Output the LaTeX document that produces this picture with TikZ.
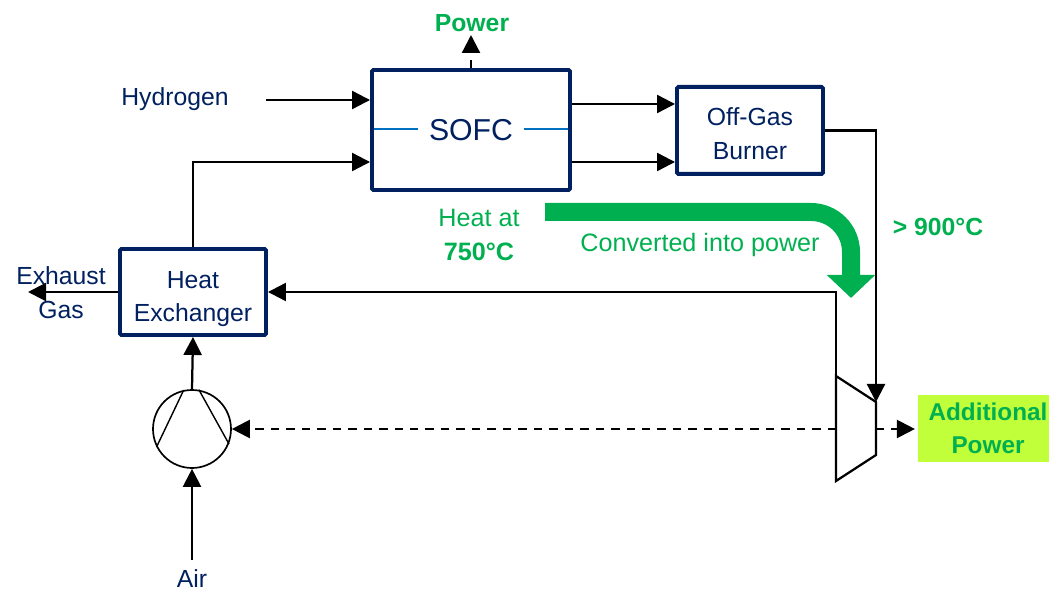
\documentclass[tikz,border=0pt]{standalone}
\usepackage{fontspec}
\setmainfont{Liberation Sans}
\usetikzlibrary{arrows.meta}

\definecolor{boxblue}{HTML}{002060}
\definecolor{linkblue}{HTML}{0070C0}
\definecolor{heatgreen}{HTML}{00B050}
\definecolor{limegreen}{HTML}{C1FF3A}

\begin{document}
\begin{tikzpicture}
      \tikzset{>={Triangle[length=0.45cm,width=0.45cm]}}
      \tikzset{flow/.style={line width=1.6pt}}
      \tikzset{dashflow/.style={line width=1.6pt,dash pattern=on 6pt off 5pt}}
      \tikzset{unitbox/.style={shape=rectangle,draw=boxblue,line width=2.8pt,rounded corners=1pt,text=boxblue,align=center,font=\fontsize{17.6}{24}\selectfont}}
      \tikzset{bluetxt/.style={text=boxblue,align=center,font=\fontsize{17.6}{24}\selectfont}}
      \tikzset{greentxt/.style={text=heatgreen,align=center,font=\fontsize{17.9}{24}\selectfont}}
      \tikzset{greenbold/.style={text=heatgreen,align=center,font=\fontsize{17.6}{24}\selectfont\bfseries}}

      \path[use as bounding box,clip] (0,0) rectangle (26.225,14.8);

      \node[unitbox,minimum width=4.95cm,minimum height=3cm,font=\fontsize{21.5}{26}\selectfont](SOFC) at (11.775,11.55) {\rule{0pt}{13pt}SOFC};
      \node[unitbox,minimum width=3.65cm,minimum height=2.175cm](Burner) at (18.75,11.54) {\rule{0pt}{17pt}Off-Gas\\Burner};
      \node[unitbox,minimum width=3.65cm,minimum height=2.15cm](Exchanger) at (4.825,7.5) {\rule{0pt}{22pt}Heat\\Exchanger};
      \node[shape=circle,draw=black,line width=1.2pt,minimum size=1.95cm,inner sep=0pt](Compressor) at (4.8,4.075) {};
      \node[shape=rectangle,fill=limegreen,minimum width=3.5cm,minimum height=1.675cm,inner sep=0pt,greenbold,font=\fontsize{17.3}{24}\selectfont\bfseries](Additional) at (24.7,4.09) {Additional\\Power};

      \node[bluetxt](Hydrogen) at (4.375,12.325) {Hydrogen};
      \node[bluetxt](Exhaust) at (1.525,7.475) {Exhaust\\Gas};
      \node[bluetxt,inner sep=0pt](Air) at (4.8,0.33) {Air};
      \node[greenbold](Power) at (11.8,14.225) {Power};
      \node[greentxt](Heat) at (11.975,8.925) {Heat at\\\textbf{750°C}};
      \node[greentxt](Converted) at (17.5,8.675) {Converted into power};
      \node[greenbold](Hot) at (23.45,9.125) {> 900°C};

      \coordinate (HydrogenIn) at (6.65,12.3);
      \coordinate (PowerOut) at (11.775,13.925);
      \coordinate (AirIn) at (4.8,0.8);
      \coordinate (ExhaustOut) at (0.7,7.5);
      \coordinate (TurbineA) at (20.9,5.4);
      \coordinate (TurbineB) at (21.9,4.75);
      \coordinate (TurbineC) at (21.9,3.425);
      \coordinate (TurbineD) at (20.9,2.775);
      \coordinate (TurbineWest) at (20.9,4.075);
      \coordinate (TurbineEast) at (21.9,4.075);
      \coordinate (HeatStart) at (13.625,9.5);
      \coordinate (HeatEnd) at (21.275,7.35);

      \draw [flow] (TurbineA) -- (TurbineB) -- (TurbineC) -- (TurbineD) -- cycle;
      \draw [line width=1pt] (Compressor.102) -- (Compressor.207);
      \draw [line width=1pt] (Compressor.80) -- (Compressor.-22);

      \draw [flow,->] (HydrogenIn) -- (SOFC.west |- HydrogenIn);
      \draw [flow,->] (Exchanger.north) |- (SOFC.west |- 0,10.75);
      \draw [dashflow,->] (SOFC.north) -- (PowerOut);
      \draw [flow,->] (SOFC.east |- 0,12.2) -- (Burner.west |- 0,12.2);
      \draw [flow,->] (SOFC.east |- 0,10.75) -- (Burner.west |- 0,10.75);
      \draw [flow,->] (Burner.east) -| (TurbineB);
      \draw [flow,->] (TurbineA) |- (Exchanger.east);
      \draw [flow,->] (Exchanger.west) -- (ExhaustOut);
      \draw [flow,->] (Compressor.north) -- (Exchanger.south);
      \draw [flow,->] (AirIn) -- (Compressor.south);
      \draw [dashflow,->] (TurbineWest) -- (Compressor.east);
      \draw [dashflow,->,shorten >=2pt] (TurbineEast) -- (Additional.west |- TurbineEast);

      \draw [draw=linkblue,line width=1pt] (SOFC.west |- 0,11.575) ++(0.1,0) -- ++(1.1,0);
      \draw [draw=linkblue,line width=1pt] (SOFC.east |- 0,11.575) ++(-0.1,0) -- ++(-1.1,0);

      \draw [draw=heatgreen,line width=0.45cm,rounded corners=1cm,-{Triangle[length=0.575cm,width=1.175cm]}] (HeatStart) -| (HeatEnd);
    \end{tikzpicture}
\end{document}
